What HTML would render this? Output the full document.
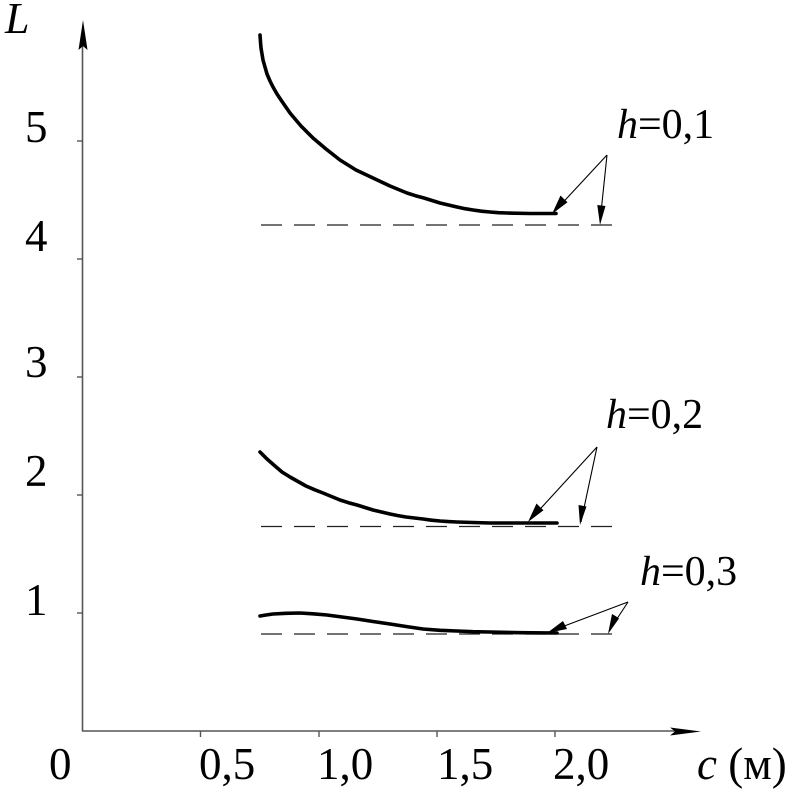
<!DOCTYPE html>
<html>
<head>
<meta charset="utf-8">
<style>
html,body{margin:0;padding:0;background:#fff;}
svg{display:block;}
svg text{font-family:"Liberation Serif","Times New Roman","Noto Serif CJK SC","DejaVu Serif",serif;fill:#000;}
</style>
</head>
<body>
<svg width="788" height="793" viewBox="0 0 788 793" xmlns="http://www.w3.org/2000/svg">
<!-- axes -->
<line x1="82.5" y1="45" x2="82.5" y2="731" stroke="#555" stroke-width="1.6"/>
<line x1="82" y1="731" x2="675" y2="731" stroke="#555" stroke-width="1.6"/>
<polygon points="83,20 78.5,50 83,46 87.5,50" fill="#000"/>
<polygon points="701,731.5 670,727.5 675,731.5 670,735.5" fill="#000"/>
<!-- ticks -->
<g stroke="#555" stroke-width="1.4">
<line x1="77" y1="141" x2="82" y2="141"/>
<line x1="77" y1="259" x2="82" y2="259"/>
<line x1="77" y1="377" x2="82" y2="377"/>
<line x1="77" y1="495" x2="82" y2="495"/>
<line x1="77" y1="613" x2="82" y2="613"/>
<line x1="200.5" y1="731" x2="200.5" y2="737"/>
<line x1="319" y1="731" x2="319" y2="737"/>
<line x1="437" y1="731" x2="437" y2="737"/>
<line x1="555" y1="731" x2="555" y2="737"/>
</g>
<!-- labels -->
<g font-size="45" style="font-family:'Liberation Serif','Times New Roman','Noto Serif CJK SC','DejaVu Serif',serif">
<text x="25" y="142">5</text>
<text x="25" y="251">4</text>
<text x="25" y="377">3</text>
<text x="25" y="486">2</text>
<text x="25" y="615">1</text>
<text x="49" y="779">0</text>
<text x="199" y="779">0,5</text>
<text x="317" y="779">1,0</text>
<text x="437" y="779">1,5</text>
<text x="553" y="779">2,0</text>
<text x="697" y="779"><tspan font-style="italic">c</tspan> (м)</text>
</g>
<text x="5" y="33" font-size="44" font-style="italic" style="font-family:'Liberation Serif','Times New Roman','Noto Serif CJK SC','DejaVu Serif',serif">L</text>
<!-- dashed lines -->
<g stroke="#222" stroke-width="1.3" stroke-dasharray="21 12" fill="none">
<line x1="261" y1="225" x2="615" y2="225"/>
<line x1="261" y1="526.5" x2="615" y2="526.5"/>
<line x1="261" y1="634" x2="615" y2="634"/>
</g>
<!-- curves -->
<g stroke="#000" stroke-width="3.6" fill="none" stroke-linejoin="round" stroke-linecap="round">
<polyline points="260,35 260.5,42 261,48 262,54 263,60 265,67 267,74 270,81 273,87 277,94 281,100 285.5,106.5 290,113 295.5,119.5 301,126 307,132 313,138 319.5,143.5 326,149 333,154.5 340,160 348,165 356,170 364.5,174 373,178 381.5,182 390,186 398.5,189.5 407,193 415.5,195.7 424,198 432,200.5 440,203 448.5,205 457,207 465,208.7 473,210 481.5,211.2 490,212 498.5,212.7 507,213 530,213.5 556,213.5"/>
<polyline points="260,452 263.5,455.5 267,459 271,462.5 275,466 278.5,469 282,472 286,474.5 290,477 298,481.5 306,486 314.5,489.7 323,493 331.5,496.5 340,500 348.5,502.7 357,505 365,507.5 373,510 381.5,512 390,514 398,515.6 406,517 414.5,518 423,519 431.5,520.2 440,521 448.5,521.6 457,522 473,522.5 490,523 520,523 557,523"/>
<polyline points="260,616 266,615 273,614 286,613.3 300,613 313,613.8 327,615 342,617 357,619 373,621.5 390,624 406,626.5 423,629 440,630.3 457,631 473,631.7 490,632 520,632.7 557,633"/>
</g>
<!-- annotation arrows -->
<g stroke="#000" stroke-width="1.1" fill="none">
<line x1="607" y1="155" x2="555" y2="211"/>
<line x1="607" y1="155" x2="600" y2="222"/>
<line x1="597" y1="447" x2="531" y2="519"/>
<line x1="597" y1="447" x2="581" y2="522"/>
<line x1="628" y1="602" x2="551" y2="631"/>
<line x1="628" y1="602" x2="609" y2="631"/>
</g>
<g fill="#000">
<polygon points="552,214 560.5,195.5 564,199 567.5,202.3"/>
<polygon points="600,225 597.3,205 601.5,205.5 605.5,206"/>
<polygon points="528,522 536.5,503.5 540,507 543.5,510.3"/>
<polygon points="580,525 578.5,505 582.5,505.7 586.5,506.5"/>
<polygon points="547,633 563,621 565,625 567,629"/>
<polygon points="608,634 612,614 615.5,616 619,618.5"/>
</g>
<!-- h labels -->
<g font-size="42" style="font-family:'Liberation Serif','Times New Roman','Noto Serif CJK SC','DejaVu Serif',serif">
<text x="617" y="138"><tspan font-style="italic">h</tspan>=0,1</text>
<text x="606" y="428"><tspan font-style="italic">h</tspan>=0,2</text>
<text x="640" y="585"><tspan font-style="italic">h</tspan>=0,3</text>
</g>
</svg>
</body>
</html>
